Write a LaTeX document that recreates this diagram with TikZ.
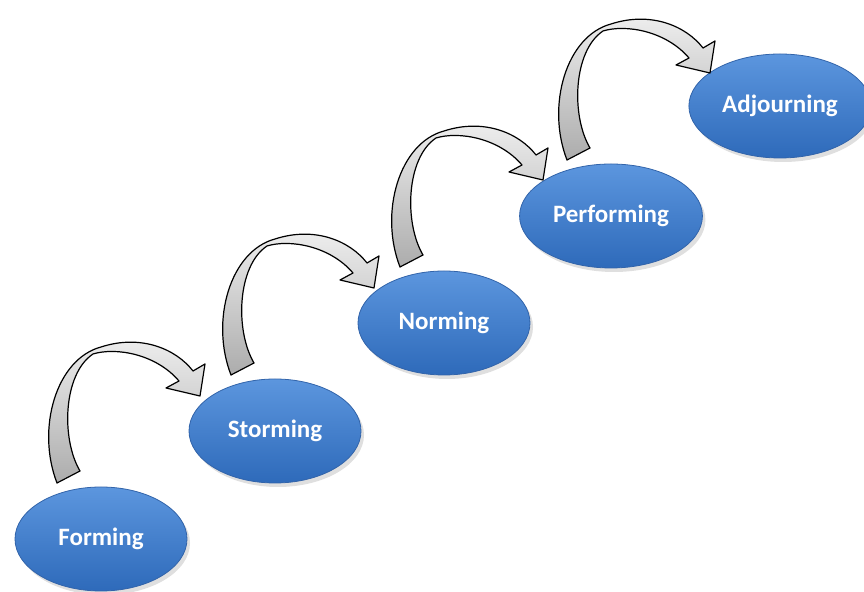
\documentclass[tikz,border=0pt]{standalone}
\usepackage{fontspec}
\usepackage{tikz}
\usetikzlibrary{shapes.geometric,shadows}
\newfontfamily\stagefont{Carlito}
\definecolor{stagetop}{RGB}{92,150,222}
\definecolor{stagebot}{RGB}{46,106,186}
\definecolor{stageline}{RGB}{50,100,170}
% curved block arrow, drawn from the top left of a stage
\newcommand{\stagearrow}[1]{\begin{scope}[shift={(#1)}]
	\draw[line width=.6pt,shade,top color=gray!12,bottom color=gray!65,line join=round]
	(-44,-56) .. controls (-65,-110) and (-45,-180) .. (0,-192)
	.. controls (40,-205) and (75,-190) .. (92,-168)
	-- (104,-175) -- (99,-143) -- (65,-151) -- (78,-158)
	.. controls (55,-185) and (15,-192) .. (-8,-185)
	.. controls (-38,-165) and (-40,-100) .. (-21,-68) -- cycle;
	\end{scope}}

\begin{document}
\begin{tikzpicture}[x=.5pt,y=-.5pt,every node/.style={ellipse,draw=stageline,line width=.4pt,
	top color=stagetop,bottom color=stagebot,minimum width=86pt,minimum height=52pt,
	text=white,font=\stagefont\bfseries\fontsize{12.5}{14}\selectfont,
	drop shadow={shadow xshift=1.5pt,shadow yshift=-2pt,opacity=.25}}]
	\useasboundingbox (0,0) rectangle (864,592);
	
	\node (f) at (101,539){Forming};
	\node (s) at (275,431){Storming};
	\node (n) at (444,323){Norming};
	\node (p) at (611,216){Performing};
	\node (a) at (780,106){Adjourning};
	
	%arrows
	\stagearrow{f}
	\stagearrow{s}
	\stagearrow{n}
	\stagearrow{p}
	
\end{tikzpicture}
\end{document}
